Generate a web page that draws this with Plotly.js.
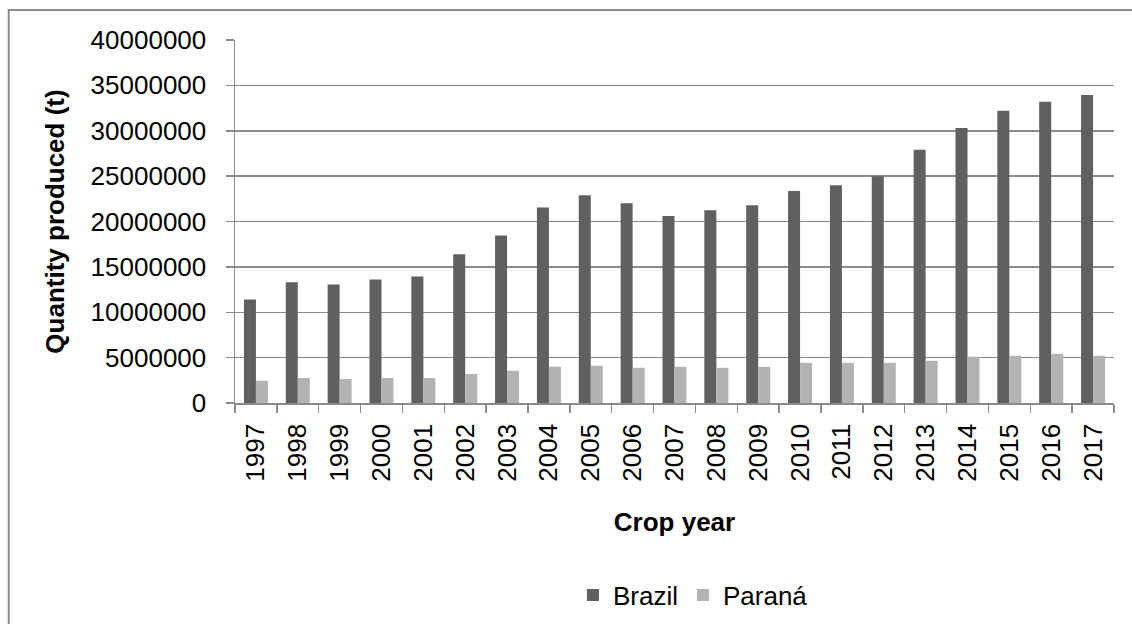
<!DOCTYPE html>
<html>
<head>
<meta charset="utf-8">
<script src="https://cdn.plot.ly/plotly-3.0.1.min.js"></script>
<style>
html,body{margin:0;padding:0;background:#fff;}
#chart{width:1132px;height:624px;}
</style>
</head>
<body>
<div id="chart"></div>
<script>
const years = ["1997","1998","1999","2000","2001","2002","2003","2004","2005","2006","2007","2008","2009","2010","2011","2012","2013","2014","2015","2016","2017"];
const brazil = [11400000,13300000,13050000,13600000,13950000,16400000,18450000,21550000,22900000,22000000,20600000,21250000,21800000,23350000,24000000,25000000,27900000,30300000,32200000,33200000,33950000];
const parana = [2450000,2750000,2650000,2750000,2750000,3200000,3550000,4000000,4100000,3880000,3980000,3880000,3980000,4420000,4420000,4420000,4650000,5100000,5200000,5420000,5200000];
const yTicks = [0,5000000,10000000,15000000,20000000,25000000,30000000,35000000,40000000];
const yTickText = ["0","5000000","10000000","15000000","20000000","25000000","30000000","35000000","40000000"];

const font = "Liberation Sans, Arial, sans-serif";
const axisGray = "#8a8a8a";

const traces = [
  {type:"bar", name:"Brazil", x:years, y:brazil, marker:{color:"#606060"}},
  {type:"bar", name:"Paraná", x:years, y:parana, marker:{color:"#b3b3b3"}}
];

const layout = {
  width:1132, height:624,
  margin:{l:235, r:18, t:40, b:221, autoexpand:false},
  paper_bgcolor:"#fff", plot_bgcolor:"#fff",
  font:{family:font, size:26, color:"#000"},
  barmode:"group", bargap:0.426, bargroupgap:0,
  showlegend:true,
  legend:{orientation:"h", x:0.521, xanchor:"center", y:-0.529, yanchor:"middle",
          font:{family:font, size:26, color:"#000"}, itemwidth:30, tracegroupgap:0, bgcolor:"rgba(0,0,0,0)"},
  xaxis:{
    type:"category",
    tickangle:-90,
    ticks:"outside", ticklen:8, tickcolor:axisGray, tickwidth:1.5,
    tickson:"boundaries",
    ticklabelstandoff:9,
    showline:true, linecolor:axisGray, linewidth:1.5,
    showgrid:false, zeroline:false,
    tickfont:{family:font, size:26, color:"#000"},
    title:{text:"<b>Crop year</b>", font:{family:font, size:26, color:"#000"}, standoff:32},
    automargin:false
  },
  yaxis:{
    range:[0,40000000],
    tickmode:"array", tickvals:yTicks, ticktext:yTickText,
    ticks:"outside", ticklen:8, tickcolor:axisGray, tickwidth:1.5,
    ticklabelstandoff:14,
    showline:true, linecolor:axisGray, linewidth:1.5,
    showgrid:true, gridcolor:axisGray, gridwidth:1.5,
    zeroline:false,
    tickfont:{family:font, size:26, color:"#000"},
    title:{text:"<b>Quantity produced (t)</b>", font:{family:font, size:26, color:"#000"}, standoff:18},
    automargin:false
  },
  shapes:[
    {type:"rect", xref:"paper", yref:"paper", x0:-0.2574, x1:1.2, y0:-1.2, y1:1.0826,
     line:{color:"#8a8a8a", width:2}, fillcolor:"rgba(0,0,0,0)", layer:"below"}
  ]
};

Plotly.newPlot("chart", traces, layout, {displayModeBar:false, staticPlot:true});
</script>
</body>
</html>
